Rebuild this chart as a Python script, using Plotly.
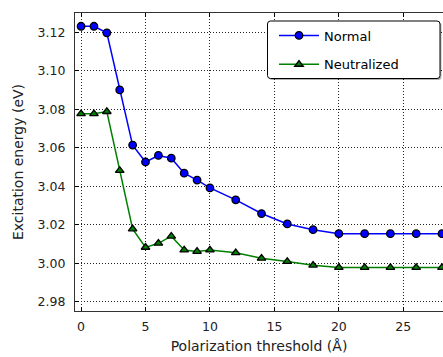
import plotly.graph_objects as go

thresholds = [0, 1, 2, 3, 4, 5, 6, 7, 8, 9, 10, 12, 14, 16, 18, 20, 22, 24, 26, 28]
normal = [3.1232, 3.1232, 3.1198, 3.0901, 3.0614, 3.0526, 3.0560, 3.0546, 3.0468, 3.0432,
          3.0391, 3.0329, 3.0258, 3.0204, 3.0174, 3.0153, 3.0153, 3.0153, 3.0153, 3.0153]
neutralized = [3.0777, 3.0777, 3.0788, 3.0482, 3.0178, 3.0082, 3.0103, 3.0140, 3.0068, 3.0061,
               3.0068, 3.0054, 3.0025, 3.0008, 2.9989, 2.9977, 2.9977, 2.9977, 2.9977, 2.9977]
x_ticks = [0, 5, 10, 15, 20, 25]
y_ticks = [2.98, 3.00, 3.02, 3.04, 3.06, 3.08, 3.10, 3.12]

FONT = "DejaVu Sans"
W, H = 443, 357
ML, MR, MT, MB = 75, 0, 13, 46

fig = go.Figure()
fig.add_trace(go.Scatter(
    x=thresholds, y=normal, name="Normal", mode="lines+markers", legendgroup="a",
    line=dict(color="#0000ff", width=1.5),
    marker=dict(symbol="circle", size=7.5, color="#0000ff", line=dict(color="black", width=1.3)),
    cliponaxis=False,
))
fig.add_trace(go.Scatter(
    x=thresholds, y=neutralized, name="Neutralized", mode="lines+markers", legendgroup="b",
    line=dict(color="#008000", width=1.5),
    marker=dict(symbol="triangle-up", size=7.5, color="#008000", line=dict(color="black", width=1.3)),
    cliponaxis=False,
))

axis_common = dict(
    showgrid=True, gridcolor="#222222", griddash="1px,2px", gridwidth=1,
    ticks="inside", ticklen=4, tickcolor="black", tickwidth=1,
    showline=True, linecolor="#333333", linewidth=1.3,
    zeroline=False,
    tickfont=dict(family=FONT, size=12.5, color="#222222"),
)

fig.update_xaxes(
    range=[-0.47, 28.08], tickvals=x_ticks, mirror="ticks",
    title=dict(text="Polarization threshold (Å)", font=dict(family=FONT, size=14, color="#222222"), standoff=8),
    ticklabelstandoff=4,
    **axis_common,
)
fig.update_yaxes(
    range=[2.9751, 3.1301], tickvals=y_ticks, tickformat=".2f", mirror=False,
    title=dict(text="Excitation energy (eV)", font=dict(family=FONT, size=14, color="#222222"), standoff=10),
    ticklabelstandoff=6,
    **axis_common,
)

# legend frame (rounded box with shadow), in paper coordinates
pw, ph = W - ML - MR, H - MT - MB
def px(xp):
    return (xp - ML) / pw
def py(yp):
    return (H - MB - yp) / ph

def rounded(x0, y0, x1, y1, r):
    X0, X1 = px(x0), px(x1)
    Y0, Y1 = py(y0), py(y1)
    rx, ry = r / pw, r / ph
    return (f"M {X0+rx},{Y0} L {X1-rx},{Y0} Q {X1},{Y0} {X1},{Y0-ry} "
            f"L {X1},{Y1+ry} Q {X1},{Y1} {X1-rx},{Y1} L {X0+rx},{Y1} "
            f"Q {X0},{Y1} {X0},{Y1+ry} L {X0},{Y0-ry} Q {X0},{Y0} {X0+rx},{Y0} Z")

fig.add_shape(type="path", xref="paper", yref="paper", path=rounded(269, 22.5, 441.5, 80, 3),
              fillcolor="rgba(0,0,0,0.3)", line=dict(width=0), layer="above")
fig.add_shape(type="path", xref="paper", yref="paper", path=rounded(267.5, 21, 440, 78.5, 3),
              fillcolor="white", line=dict(color="black", width=1), layer="above")

fig.update_layout(
    width=W, height=H,
    margin=dict(l=ML, r=MR, t=MT, b=MB),
    plot_bgcolor="white", paper_bgcolor="white",
    font=dict(family=FONT, size=13, color="black"),
    legend=dict(
        x=px(274), y=py(20.5), xanchor="left", yanchor="top",
        bgcolor="rgba(0,0,0,0)", borderwidth=0,
        font=dict(family=FONT, size=13, color="black"),
        itemwidth=40, tracegroupgap=9,
    ),
)

fig.write_html("out.html")
